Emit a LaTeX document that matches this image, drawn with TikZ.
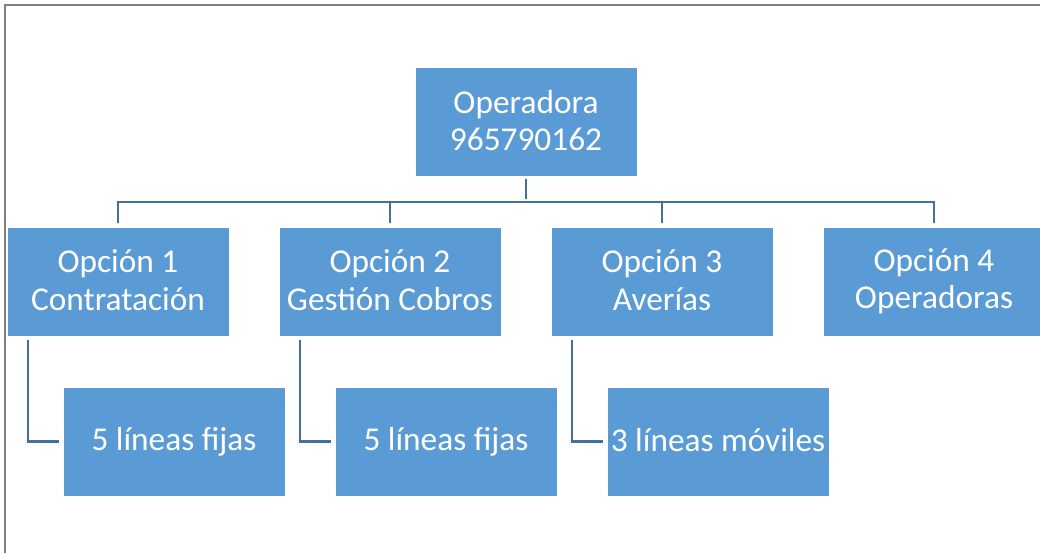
\documentclass[tikz,border=0pt]{standalone}
\usepackage{fontspec}
\setmainfont{Carlito}
\usetikzlibrary{calc}
\definecolor{boxblue}{HTML}{5B9BD5}
\definecolor{lineblue}{HTML}{41719C}
\newcommand{\boxstrut}{\rule[-2pt]{0pt}{19pt}}
\tikzset{
  box/.style={rectangle,fill=boxblue,draw=white,line width=0.4pt,text=white,
    minimum width=166.5pt,minimum height=81.75pt,inner sep=0pt,align=center,
    font=\fontsize{25}{28}\selectfont,
    execute at begin node=\boxstrut,execute at end node=\boxstrut},
  conn/.style={draw=lineblue,line width=1.6pt,shorten <=1.5pt,shorten >=2.5pt}
}
\begin{document}
\begin{tikzpicture}[x=0.75pt,y=-0.75pt]
  \useasboundingbox (0,0) rectangle (1040,553);
  \draw[gray,line width=1.1pt] (5,553) -- (5,5) -- (1040,5);
  \node[box] (root) at (526,122) {Operadora\\965790162};
  \foreach \i/\x/\lab in {1/118/{Opción 1\\Contratación},2/390/{Opción 2\\Gestión Cobros},
      3/662/{Opción 3\\Averías},4/934/{Opción 4\\Operadoras}} {
    \node[box] (opt\i) at (\x,281.5) {\lab};
  }
  \foreach \i/\x/\lab in {1/174/{5 líneas fijas},2/446/{5 líneas fijas},3/718/{3 líneas móviles}} {
    \node[box] (sub\i) at (\x,441.5) {\lab};
  }
  % top level connectors
  \coordinate (bus) at (526,202);
  \draw[conn] (root.south) -- (bus);
  \draw[conn,shorten <=2.5pt] (opt1.north) |- (bus) -| (opt4.north);
  \draw[conn,shorten <=0pt] (opt2.north |- bus) -- (opt2.north);
  \draw[conn,shorten <=0pt] (opt3.north |- bus) -- (opt3.north);
  % sub connectors
  \foreach \i in {1,2,3} {
    \draw[conn,shorten <=2.5pt] ($(opt\i.south west)+(21,0)$) |- (sub\i.west);
  }
\end{tikzpicture}
\end{document}
